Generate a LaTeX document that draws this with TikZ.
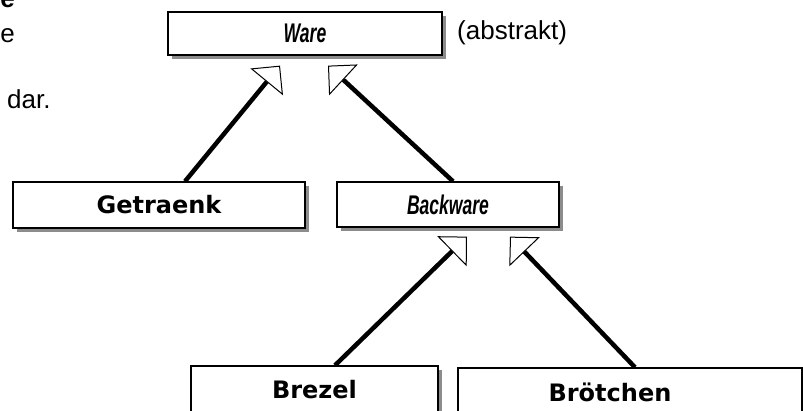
\documentclass[tikz,border=0pt]{standalone}
\usepackage{fontspec}
\setmainfont{Liberation Sans}
\newfontfamily\klassfont{DejaVu Sans}
\usetikzlibrary{arrows.meta,shadows}

\begin{document}
\begin{tikzpicture}[x=1pt,y=-1pt,
  klasse/.style={draw,line width=1.3pt,fill=white,inner sep=0pt,
    drop shadow={shadow xshift=4pt,shadow yshift=-4pt,fill=black!45,opacity=1},
    font=\klassfont\bfseries\fontsize{24}{28}\selectfont},
  abstr/.style={klasse,font=\bfseries\itshape\fontsize{27}{30}\selectfont},
  erbt/.style={line width=4.5pt,-{Triangle[fill=white,length=21pt,width=42pt,line width=1pt]}},
  txt/.style={inner sep=0pt,font=\fontsize{26}{30}\selectfont}]
\useasboundingbox (0,0) rectangle (803,411);

\node[txt,font=\fontsize{26}{30}\selectfont\bfseries,anchor=base east] (zeile1) at (15,8) {e};
\node[txt,anchor=base east] (zeile2) at (15,43) {e};
\node[txt,anchor=base west] (zeile3) at (7,109) {dar.};

\node[abstr,minimum width=274pt,minimum height=43pt] (ware) at (305,33.5) {\scalebox{0.65}[1]{Ware}};
\node[txt,anchor=west] (abstrakt) at (457,33) {(abstrakt)};

\node[klasse,minimum width=292pt,minimum height=46pt] (getraenk) at (159,205) {Getraenk};
\node[abstr,minimum width=222pt,minimum height=45pt] (backware) at (448,204.5) {\scalebox{0.65}[1]{Backware}};

\node[klasse,minimum width=247pt,minimum height=48pt] (brezel) at (314.5,390) {Brezel};
\node[klasse,minimum width=344pt,minimum height=48pt] (broetchen) at (630,392) {\hspace*{-40pt}Brötchen};

\coordinate (ware-l) at ([xshift=-25pt,yshift=-10pt]ware.south);
\coordinate (ware-r) at ([xshift=23pt,yshift=-10pt]ware.south);
\coordinate (back-l) at ([xshift=19pt,yshift=-9pt]backware.south);
\coordinate (back-r) at ([xshift=62pt,yshift=-9pt]backware.south);

\draw[erbt] ([xshift=26pt]getraenk.north) -- (ware-l);
\draw[erbt] ([xshift=5pt]backware.north) -- (ware-r);
\draw[erbt] ([xshift=20.5pt]brezel.north) -- (back-l);
\draw[erbt] ([xshift=5pt]broetchen.north) -- (back-r);
\end{tikzpicture}
\end{document}
